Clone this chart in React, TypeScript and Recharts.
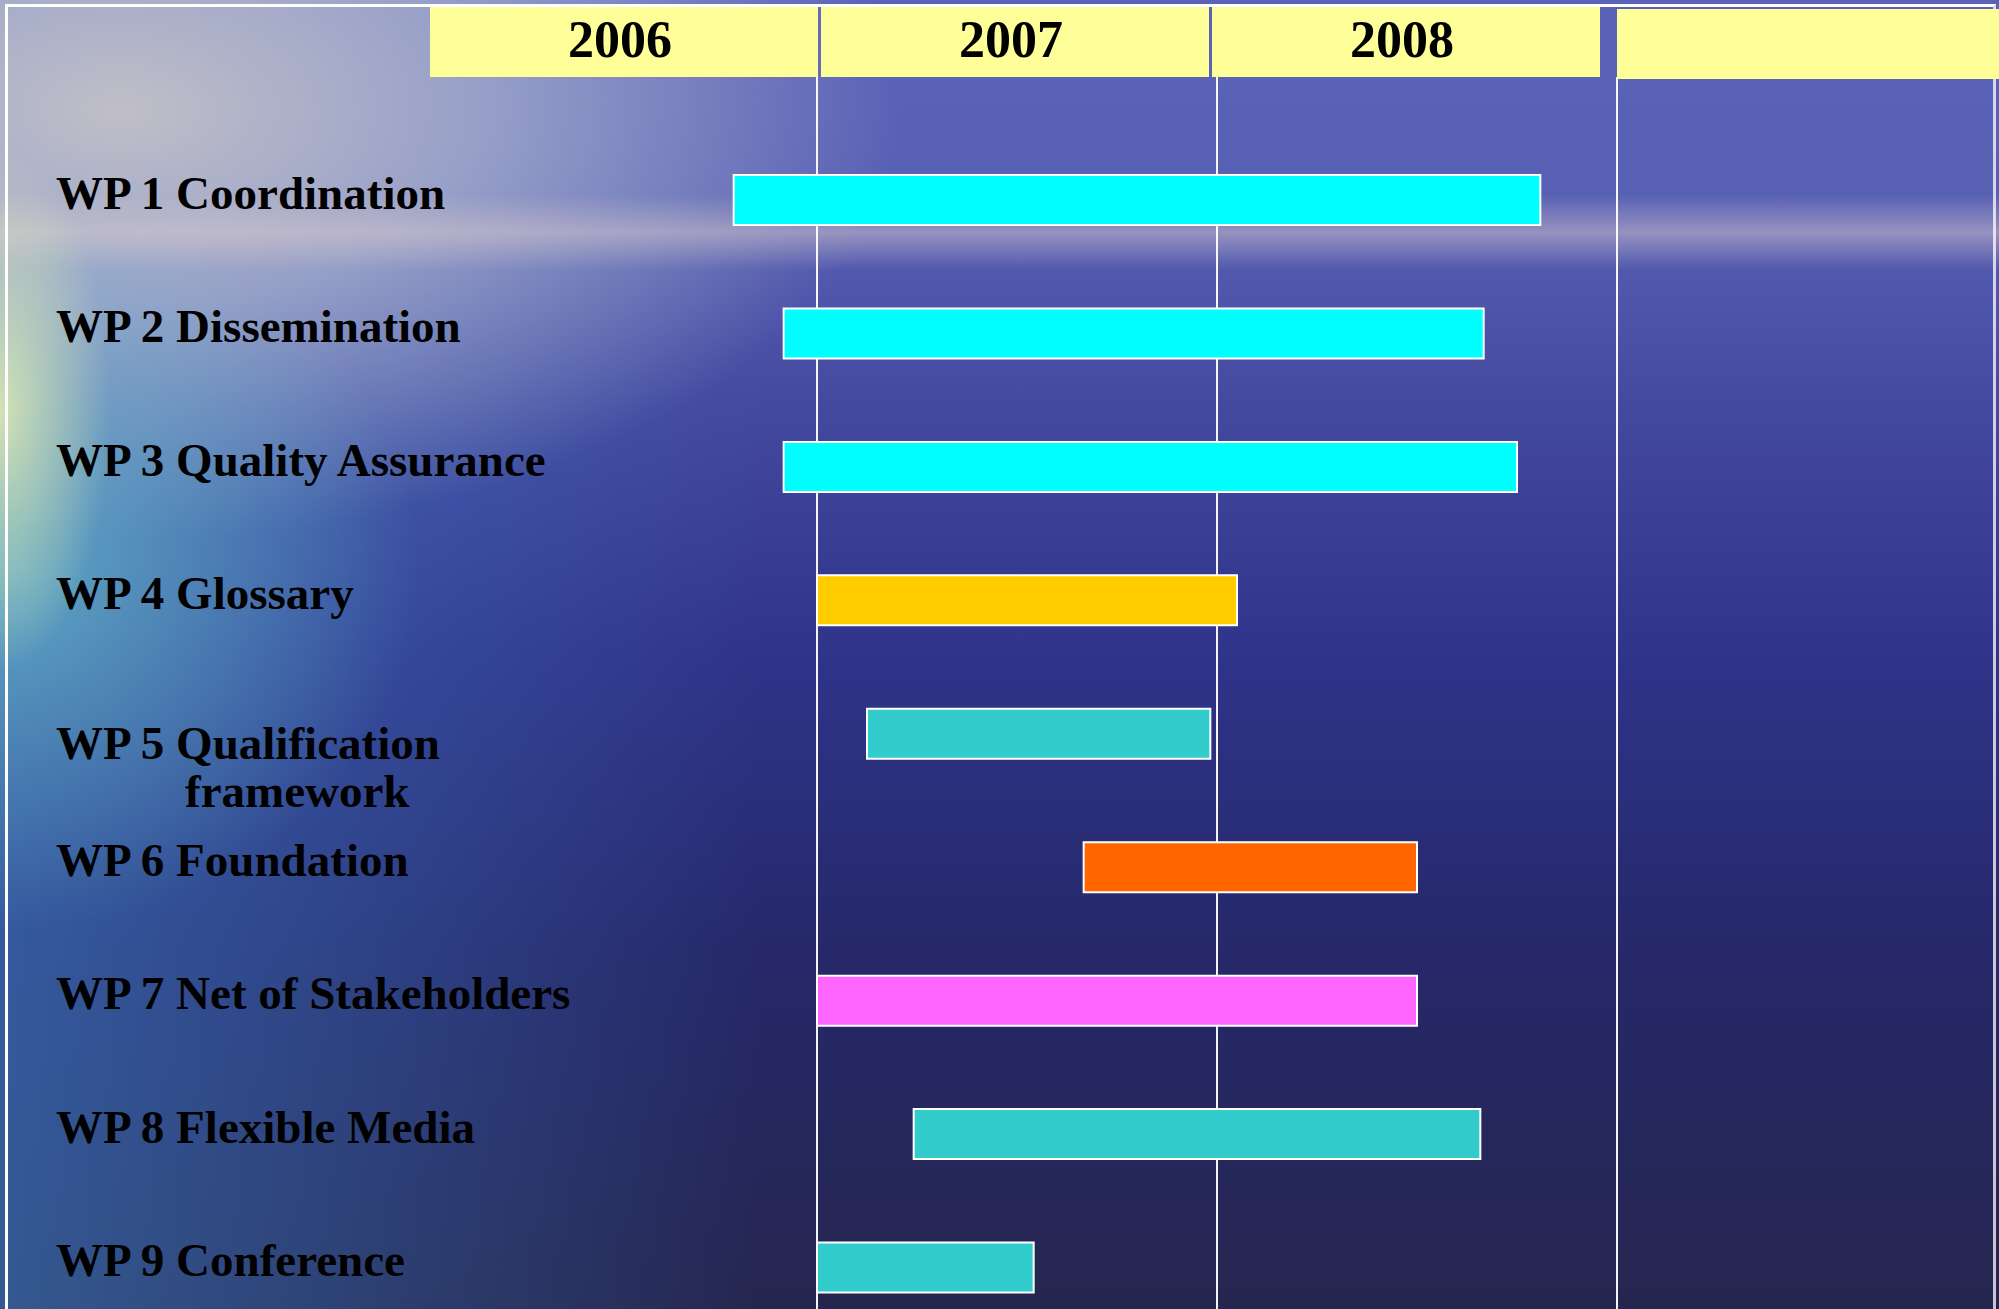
import React from 'react';
import { BarChart, Bar, XAxis, YAxis, CartesianGrid, Cell } from 'recharts';

// work packages, months counted from January 2006
const tasks = [
  'WP 1 Coordination',
  'WP 2 Dissemination',
  'WP 3 Quality Assurance',
  'WP 4 Glossary',
  'WP 5 Qualification\nframework',
  'WP 6 Foundation',
  'WP 7 Net of Stakeholders',
  'WP 8 Flexible Media',
  'WP 9 Conference',
];
const startMonth = [9.5, 11, 11, 12, 13.5, 20, 12, 14.9, 12];
const endMonth = [33.7, 32, 33, 24.6, 23.8, 30, 30, 31.9, 18.5];

const years = ['2006', '2007', '2008', ''];
const yearTicks = [6, 18, 30, 42];
const yearStarts = [12, 24, 36];
const monthDomain = [0, 48];

const barColors = ['#00FFFF', '#00FFFF', '#00FFFF', '#FFCC00', '#33CCCC', '#FF6600', '#FF66FF', '#33CCCC', '#33CCCC'];

const rows = tasks.map((task, i) => ({
  task,
  offset: startMonth[i],
  duration: endMonth[i] - startMonth[i],
}));

const serif = '"Liberation Serif", "Times New Roman", serif';

// header cells sit slightly tighter than the year columns in the original slide
const YearTick = (props: any) => {
  const { x, payload } = props;
  const idx = yearTicks.indexOf(payload.value);
  const shift = idx < 3 ? 7 - 9 * idx : -6;
  const left = x - 194 + shift;
  return (
    <g>
      <rect x={left} y={idx === 3 ? 9 : 7} width={388} height={70} fill="#FFFF99" />
      <text x={left + 190} y={57} textAnchor="middle" fontFamily={serif} fontWeight="bold" fontSize={52} fill="#000">
        {years[idx]}
      </text>
    </g>
  );
};

const TaskTick = (props: any) => {
  const { y, payload } = props;
  const lines = String(payload.value).split('\n');
  return (
    <text fontFamily={serif} fontWeight="bold" fontSize={47} fill="#000">
      {lines.map((line, i) => (
        <tspan key={i} x={i === 0 ? 56 : 185} y={y + 9 + (lines.length > 1 ? 16 + i * 48 : 0)}>
          {line}
        </tspan>
      ))}
    </text>
  );
};

// year boundary lines, placed through the plot offset and month domain
const yearLines = ({ offset }: any) =>
  yearStarts.map((m) => offset.left + (offset.width * (m - monthDomain[0])) / (monthDomain[1] - monthDomain[0]));

const background = [
  'radial-gradient(ellipse 110px 260px at 0px 410px, rgba(228,238,178,0.85), rgba(228,238,178,0) 100%)',
  'radial-gradient(ellipse 420px 360px at 0px 570px, rgba(110,198,205,0.7), rgba(110,198,205,0) 100%)',
  'linear-gradient(180deg, rgba(215,200,205,0) 195px, rgba(215,200,205,0.5) 232px, rgba(215,200,205,0) 270px)',
  'radial-gradient(ellipse 780px 430px at 120px 110px, rgba(198,195,200,0.95) 0%, rgba(180,182,206,0.72) 45%, rgba(180,182,206,0) 100%)',
  'linear-gradient(90deg, rgba(65,130,200,0.55) 0px, rgba(65,130,200,0) 760px)',
  'linear-gradient(180deg, #5b63b8 0px, #5860b4 200px, #444aa0 400px, #30348a 650px, #26286a 950px, #25264f 1309px)',
].join(', ');

const App: React.FC = () => {
  return (
    <div style={{ position: 'relative', width: 1999, height: 1309, overflow: 'hidden', background }}>
      <style>{'body{margin:0}'}</style>
      <div
        style={{
          position: 'absolute',
          left: 5,
          top: 4,
          width: 1985,
          height: 1330,
          borderTop: '3px solid #fff',
          borderLeft: '3px solid #fff',
          borderRight: '3px solid rgba(255,255,255,0.75)',
        }}
      />
      <div style={{ position: 'absolute', left: 0, top: 0 }}>
        <BarChart
          width={2017}
          height={1340}
          data={rows}
          layout="vertical"
          margin={{ top: 0, right: 0, bottom: 0, left: 0 }}
          barSize={50}
        >
          <CartesianGrid
            horizontal={false}
            verticalCoordinatesGenerator={yearLines}
            stroke="#ffffff"
            strokeWidth={2}
            strokeOpacity={0.95}
          />
          <XAxis
            type="number"
            orientation="top"
            domain={monthDomain}
            ticks={yearTicks}
            interval={0}
            height={77}
            axisLine={false}
            tickLine={false}
            tick={<YearTick />}
          />
          <YAxis
            type="category"
            dataKey="task"
            width={417}
            interval={0}
            axisLine={false}
            tickLine={false}
            tick={<TaskTick />}
            padding={{ top: 56, bottom: 6 }}
          />
          <Bar dataKey="offset" stackId="a" fill="transparent" isAnimationActive={false} />
          <Bar dataKey="duration" stackId="a" stroke="#ffffff" strokeWidth={2} isAnimationActive={false}>
            {rows.map((_, i) => (
              <Cell key={i} fill={barColors[i]} />
            ))}
          </Bar>
        </BarChart>
      </div>
    </div>
  );
};

export default App;
